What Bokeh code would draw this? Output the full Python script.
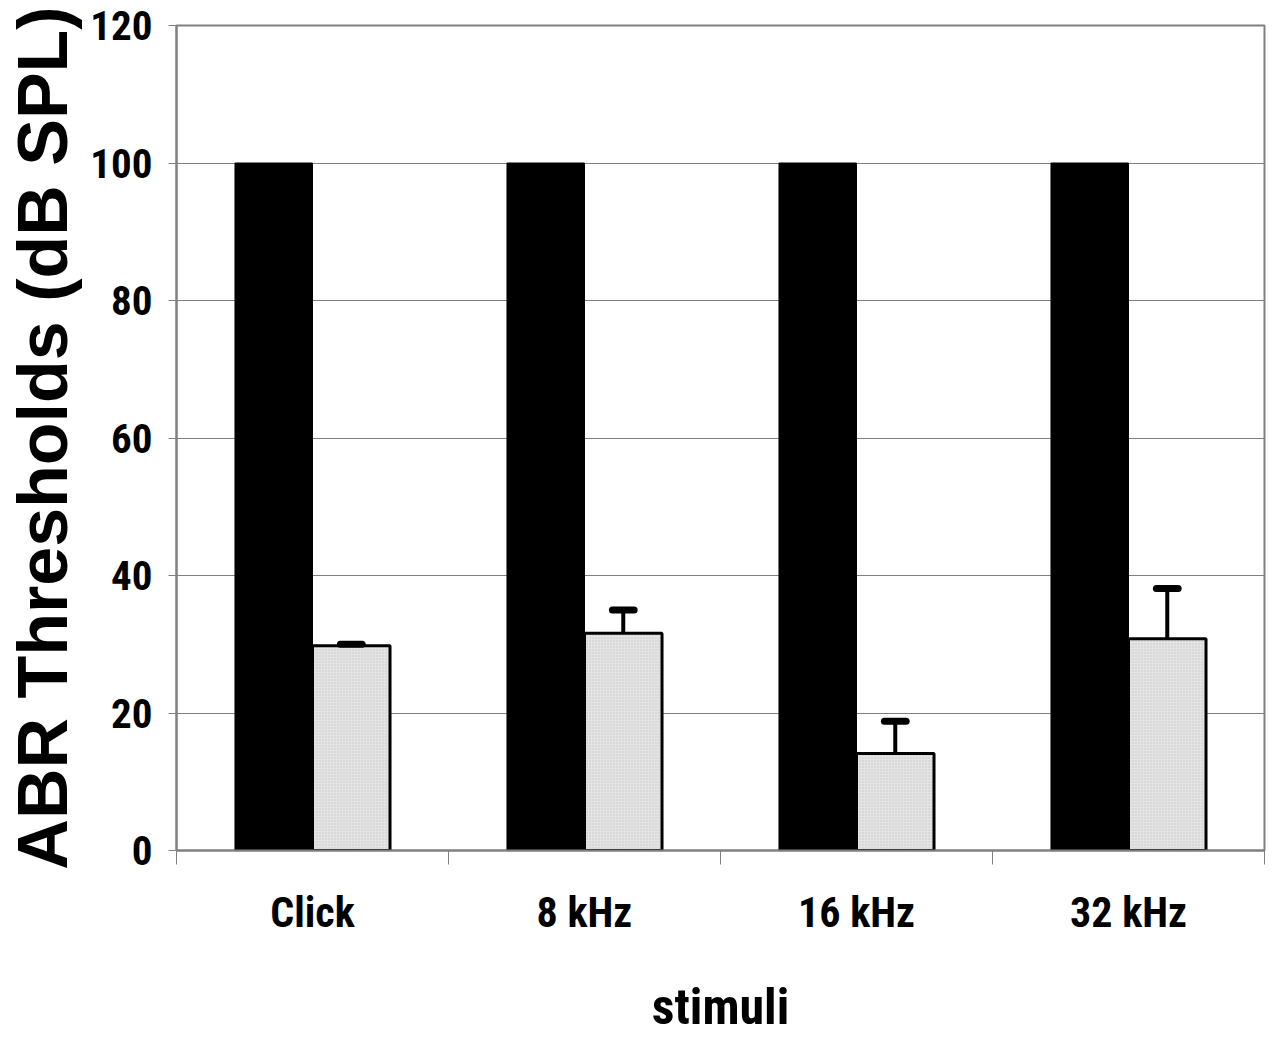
from bokeh.plotting import figure
from bokeh.models import Range1d, FixedTicker
from bokeh.embed import file_html
from bokeh.resources import INLINE

categories = ["Click", "8 kHz", "16 kHz", "32 kHz"]
black_values = [100, 100, 100, 100]
gray_values = [29.8, 31.6, 14.1, 30.8]
gray_upper = [30.0, 35.0, 18.8, 38.1]
y_ticks = [0, 20, 40, 60, 80, 100, 120]

NARROW = "Roboto Condensed, Noto Sans Condensed, Liberation Sans"
WIDE = "Liberation Sans"

bar_w = 0.285
centers = [i + 0.5 for i in range(len(categories))]
x_black = [c - bar_w / 2 for c in centers]
x_gray = [c + bar_w / 2 for c in centers]

p = figure(width=1272, height=1038, output_backend="svg",
           toolbar_location=None, x_range=Range1d(0, 4), y_range=Range1d(0, 120),
           min_border_left=176, min_border_right=8, min_border_top=25, min_border_bottom=188)
p.background_fill_color = "white"
p.border_fill_color = "white"
p.outline_line_color = "#808080"
p.outline_line_width = 2

p.vbar(x=x_black, top=black_values, width=bar_w, bottom=0,
       fill_color="black", line_color="black", line_width=1)
p.vbar(x=x_gray, top=gray_values, width=bar_w, bottom=0,
       fill_color="#e4e4e4", line_color="black", line_width=3,
       hatch_pattern="dot", hatch_color="#c4c4c4", hatch_scale=3, hatch_weight=0.6)

cap = 0.04
p.segment(x0=x_gray, y0=gray_values, x1=x_gray, y1=gray_upper,
          line_color="black", line_width=4)
p.segment(x0=[x - cap for x in x_gray], y0=gray_upper,
          x1=[x + cap for x in x_gray], y1=gray_upper,
          line_color="black", line_width=7, line_cap="round")

p.xgrid.grid_line_color = None
p.ygrid.grid_line_color = "#808080"
p.ygrid.grid_line_width = 1

p.yaxis.ticker = FixedTicker(ticks=y_ticks)
p.yaxis.axis_line_color = "#808080"
p.yaxis.axis_line_width = 2
p.yaxis.major_tick_line_color = "#808080"
p.yaxis.major_tick_out = 8
p.yaxis.major_tick_in = 0
p.yaxis.minor_tick_line_color = None
p.yaxis.major_label_text_font = NARROW
p.yaxis.major_label_text_font_style = "bold"
p.yaxis.major_label_text_font_size = "41px"
p.yaxis.major_label_text_color = "black"
p.yaxis.major_label_standoff = 16
p.yaxis.axis_label = "ABR Thresholds (dB SPL)"
p.yaxis.axis_label_text_font = WIDE
p.yaxis.axis_label_text_font_style = "bold"
p.yaxis.axis_label_text_font_size = "70px"
p.yaxis.axis_label_text_color = "black"
p.yaxis.axis_label_standoff = 5

p.xaxis.ticker = FixedTicker(ticks=centers, minor_ticks=[0, 1, 2, 3, 4])
p.xaxis.major_label_overrides = {c: lab for c, lab in zip(centers, categories)}
p.xaxis.axis_line_color = "#808080"
p.xaxis.axis_line_width = 2
p.xaxis.major_tick_line_color = None
p.xaxis.major_tick_out = 0
p.xaxis.major_tick_in = 0
p.xaxis.minor_tick_line_color = "#808080"
p.xaxis.minor_tick_out = 14
p.xaxis.minor_tick_in = 0
p.xaxis.major_label_text_font = NARROW
p.xaxis.major_label_text_font_style = "bold"
p.xaxis.major_label_text_font_size = "42px"
p.xaxis.major_label_text_color = "black"
p.xaxis.major_label_standoff = 23
p.xaxis.axis_label = "stimuli"
p.xaxis.axis_label_text_font = NARROW
p.xaxis.axis_label_text_font_style = "bold"
p.xaxis.axis_label_text_font_size = "50px"
p.xaxis.axis_label_text_color = "black"
p.xaxis.axis_label_standoff = 38

open("out.html", "w").write(file_html(p, INLINE))
